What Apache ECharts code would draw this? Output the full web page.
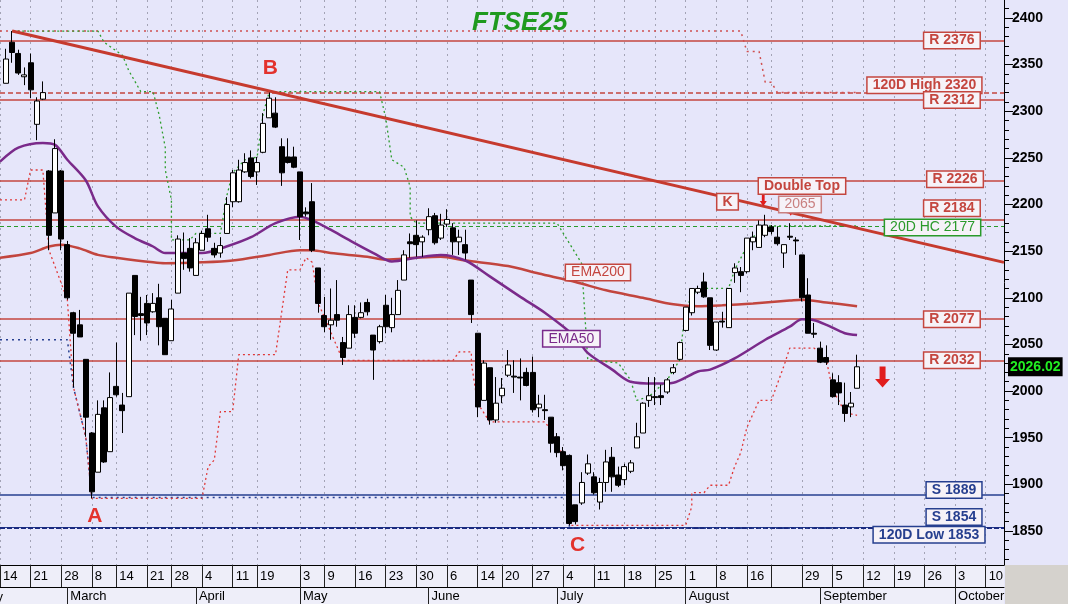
<!DOCTYPE html>
<html>
<head>
<meta charset="utf-8">
<script src="https://cdn.jsdelivr.net/npm/echarts@6.0.0/dist/echarts.min.js"></script>
<style>
html,body{margin:0;padding:0;background:#e6e6fa;}
#chart{width:1068px;height:604px;}
</style>
</head>
<body>
<div id="chart"></div>
<script>
// ---------- categories (trading days) ----------
const dates = ['02-14','02-15','02-16','02-17','02-18','02-21','02-22','02-23','02-24','02-25',
'02-28','03-01','03-02','03-03','03-04','03-08','03-09','03-10','03-11','03-14','03-15','03-16','03-17','03-18',
'03-21','03-22','03-23','03-24','03-28','03-29','03-30','03-31','04-01','04-04','04-05','04-06','04-07','04-08',
'04-11','04-12','04-13','04-14','04-19','04-20','04-21','04-26','04-27','04-28','04-29',
'05-03','05-04','05-05','05-06','05-09','05-10','05-11','05-12','05-13','05-16','05-17','05-18','05-19','05-20',
'05-23','05-24','05-25','05-26','05-27','05-30','05-31','06-01','06-02','06-03','06-06','06-07','06-08','06-09','06-10',
'06-14','06-15','06-16','06-17','06-20','06-21','06-22','06-23','06-24','06-27','06-28','06-29','06-30','07-01',
'07-04','07-05','07-06','07-07','07-08','07-11','07-12','07-13','07-14','07-15','07-18','07-19','07-20','07-21','07-22',
'07-25','07-26','07-27','07-28','07-29','08-01','08-02','08-03','08-04','08-05','08-08','08-09','08-10','08-11','08-12',
'08-16','08-17','08-18','08-19','08-22','08-23','08-24','08-25','08-26','08-29','08-30','08-31','09-01','09-02',
'09-05','09-06','09-07','09-08','09-09','09-12','09-13','09-14','09-15','09-16','09-19','09-20','09-21','09-22','09-23',
'09-26','09-27','09-28','09-29','09-30','10-03','10-04','10-05','10-06','10-07','10-10','10-11','10-12','10-13'];

// week tick indices (day-number row) and month starts
const dayTicks = [0,5,10,15,19,24,28,33,38,42,49,53,58,63,68,73,78,82,87,92,97,102,107,112,117,122,126,131,136,141,146,151,156,161];
const blankDayTicks = [126];
const monthStarts = [11,32,49,70,91,112,134,156];
const monthNames = ['March','April','May','June','July','August','September','October'];

// ---------- OHLC ----------
const opens = [null,2330,2374,2362,2337,2352,2286,2313,2236,2191,
2236,2157,2084,2071,2034,1955,1913,1982,1935,2005,
1985,1994,2124,2083,2094,2085,2100,2078,2054,2105,
2148,2153,2124,2151,2174,2153,2148,2169,2203,2203,
2235,2250,2235,2256,2293,2298,2262,2251,2251,2235,
2192,2203,2132,2081,2071,2082,2052,2046,2079,2079,
2095,2060,2053,2092,2068,2082,2119,2160,2167,2160,
2173,2188,2164,2179,2175,2160,2157,2119,2062,1990,
2025,1969,1995,2017,2016,2015,2020,2020,1982,1980,
1972,1951,1935,1931,1878,1880,1912,1908,1881,1902,
1929,1910,1905,1914,1939,1955,1990,1994,1995,1999,
2020,2034,2065,2084,2106,2117,2100,2044,2075,2068,
2127,2128,2128,2160,2154,2167,2176,2165,2148,2166,
2162,2146,2103,2062,2046,2036,2012,2009,1985,1983,
2003];
const highs = [null,2367,2386,2366,2347,2362,2315,2332,2237,2270,
2237,2161,2085,2087,2034,1956,1990,1990,2020,2052,
1998,2105,2124,2101,2103,2105,2115,2078,2098,2167,
2170,2164,2164,2172,2189,2159,2165,2208,2237,2248,
2255,2258,2251,2298,2321,2315,2271,2271,2262,2235,
2197,2223,2132,2101,2110,2119,2058,2092,2092,2095,
2099,2060,2071,2103,2100,2119,2151,2169,2183,2167,
2196,2191,2190,2195,2180,2173,2173,2119,2062,2033,
2025,2015,2014,2044,2033,2035,2025,2037,1996,1996,
1972,1955,1940,1932,1878,1913,1932,1913,1907,1937,
1940,1919,1922,1926,1966,1988,2015,2015,2007,2014,
2029,2053,2090,2110,2113,2127,2100,2074,2085,2110,
2137,2133,2164,2171,2183,2189,2178,2176,2157,2180,
2165,2146,2121,2073,2053,2049,2019,2017,2009,1999,
2039];
const lows = [null,2330,2352,2339,2328,2314,2269,2312,2151,2191,
2151,2098,2004,2058,1951,1885,1913,1923,1935,1994,
1955,1994,2060,2054,2060,2084,2049,2039,2054,2105,
2130,2128,2124,2151,2160,2143,2143,2169,2197,2202,
2234,2228,2221,2255,2293,2282,2220,2244,2239,2162,
2187,2149,2084,2063,2055,2069,2028,2046,2057,2078,
2081,2012,2051,2062,2063,2082,2119,2143,2144,2144,
2167,2157,2162,2176,2146,2146,2141,2073,1972,1990,
1964,1966,1987,2015,1998,1990,2005,1977,1972,1969,
1934,1929,1915,1856,1857,1878,1910,1889,1873,1892,
1892,1897,1899,1912,1939,1955,1983,1985,1985,1997,
2018,2033,2064,2081,2104,2100,2044,2043,2068,2068,
2116,2106,2126,2151,2154,2165,2168,2156,2132,2162,
2146,2096,2062,2057,2030,2028,1993,1985,1967,1972,
2003];
const closes = [null,2356,2363,2341,2339,2323,2311,2320,2167,2260,
2163,2100,2062,2058,1972,1892,1975,1924,1993,1996,
1979,2105,2080,2081,2073,2094,2069,2039,2088,2163,
2142,2132,2159,2169,2165,2146,2156,2200,2234,2237,
2245,2230,2245,2287,2314,2283,2234,2245,2240,2187,
2190,2151,2094,2069,2076,2076,2036,2082,2062,2084,
2085,2044,2069,2069,2082,2108,2146,2158,2157,2165,
2187,2159,2178,2184,2160,2165,2148,2082,1983,2030,
1969,1987,2003,2028,2015,2014,2006,1980,1986,1979,
1944,1934,1920,1858,1860,1902,1922,1891,1902,1924,
1908,1899,1919,1923,1951,1987,1995,1993,1993,2012,
2025,2052,2090,2110,2110,2101,2049,2074,2074,2110,
2132,2124,2164,2165,2178,2178,2171,2158,2157,2165,
2161,2100,2062,2061,2031,2031,1994,1998,1976,1987,
2026.02];

// ---------- indicator readings [dayIndex, value] ----------
const ema200 = [[0,2143],[5,2148],[8,2155],[10,2157],[13,2153],[16,2146],[19,2143],[25,2138],[27,2137],[33,2138],
[38,2140],[44,2146],[49,2151],[51,2151],[54,2148],[60,2144],[63,2141],[68,2143],[72,2144],[76,2140],[83,2134],
[88,2126],[94,2117],[99,2108],[105,2100],[110,2093],[114,2091],[118,2092],[123,2094],[129,2097],[131,2098],
[135,2095],[140,2091]];
const ema50 = [[0,2246],[3,2261],[7,2266],[9,2264],[11,2248],[14,2226],[16,2198],[19,2176],[22,2164],[25,2155],
[27,2148],[33,2148],[37,2155],[41,2165],[45,2180],[49,2187],[51,2183],[54,2173],[57,2162],[61,2148],[64,2139],
[68,2143],[72,2146],[76,2140],[80,2123],[85,2101],[89,2084],[94,2058],[96,2041],[100,2023],[103,2010],[107,2008],
[110,2009],[114,2021],[116,2023],[120,2035],[125,2055],[129,2069],[131,2077],[133,2076],[135,2071],[138,2062],[140,2060]];
const high20 = [[2,2386],[16,2386],[17,2374],[20,2360],[21,2344],[23,2321],[25,2321],[26,2296],[27,2261],[27,2237],
[28,2205],[28,2162],[31,2162],[32,2169],[36,2169],[37,2208],[38,2234],[40,2248],[42,2251],[43,2298],[44,2321],
[62,2321],[63,2293],[64,2248],[66,2240],[67,2219],[67,2187],[68,2180],[91,2180],[95,2137],[96,2034],[101,2030],
[103,2012],[104,1990],[106,1994],[109,2012],[111,2033],[112,2090],[114,2110],[119,2110],[120,2130],[122,2155],
[123,2165],[125,2177],[140,2177]];
const low20 = [[0,2205],[4,2205],[5,2237],[7,2237],[8,2151],[11,2098],[12,2004],[14,1951],[15,1885],[33,1885],
[34,1919],[35,1926],[36,1978],[38,1978],[39,2039],[45,2039],[46,2084],[47,2130],[49,2130],[50,2143],[51,2138],
[52,2094],[53,2079],[56,2033],[74,2033],[75,2042],[77,2042],[77,2030],[78,1987],[80,1967],[89,1967],[90,1958],
[92,1930],[93,1923],[93,1856],[112,1856],[113,1876],[113,1891],[115,1891],[116,1899],[119,1899],[120,1919],
[121,1934],[122,1961],[124,1990],[126,1990],[128,2026],[129,2046],[133,2046],[134,2041],[135,2033],[136,2001],
[137,1990],[138,1977],[140,1974]];
const low120 = [[0,2055],[11,2055],[12,2004],[14,1951],[15,1886],[93,1886],[93,1853],[140,1853]];
const high120 = [[0,2386],[121,2386],[122,2364],[124,2364],[125,2331],[126,2331],[127,2320],[140,2320]];
const trend = [[2,2386],[164,2138]];

// ---------- levels and tick labels ----------
const resistance = [2376,2312,2226,2184,2077,2032];
const support = [1889,1854];
const high120Level = 2320, low120Level = 1853, hc20Level = 2177, lastPrice = 2026.02;
const yLabels = [1850,1900,1950,2000,2050,2100,2150,2200,2250,2300,2350,2400];
const yMinor = []; for (let v = 1820; v <= 2410; v += 10) yMinor.push(v);

// ---------- styling ----------
const RED = '#c4463f', GREEN = '#2a9a2a', NAVY = '#263f8f', PURPLE = '#7a2a8a', FONT = 'Liberation Sans, Arial, sans-serif';
const dayTickSet = new Set(dayTicks), blankSet = new Set(blankDayTicks);
const monthMap = {}; monthStarts.forEach((m, k) => monthMap[m] = monthNames[k]);

function box(text, idx, val, color, dx, bold, size) {
  return {
    coord: [idx, val], symbol: 'rect', symbolSize: 1, itemStyle: {color: 'rgba(0,0,0,0)'},
    label: {show: true, position: 'inside', formatter: text, offset: [dx, 0], color: color,
      fontFamily: FONT, fontSize: size || 14, fontWeight: bold === false ? 'normal' : 'bold',
      backgroundColor: '#f6f2f8', borderColor: color, borderWidth: 1.5, padding: [1, 5, 0, 5], lineHeight: 14}
  };
}
function letter(text, idx, val, dx) {
  return {coord: [idx, val], symbol: 'rect', symbolSize: 1, itemStyle: {color: 'rgba(0,0,0,0)'},
    label: {show: true, position: 'inside', formatter: text, offset: [dx, 0], color: '#e3322d',
      fontFamily: FONT, fontSize: 21, fontWeight: 'bold'}};
}
const ARROW = 'path://M3,0L7,0L7,10L10,10L5,17L0,10L3,10Z';
function arrow(idx, val, dx, w, h) {
  return {coord: [idx, val], symbol: ARROW, symbolSize: [w, h], symbolOffset: [dx, 0],
    itemStyle: {color: '#e11d1d'}, label: {show: false}};
}

const annotations = [
  box('R 2376', 155, 2376, RED, 3), box('120D High 2320', 151, 2328, RED, 0), box('R 2312', 155, 2312, RED, 3),
  box('R 2226', 156, 2227, RED, 0), box('R 2184', 155, 2196, RED, 3), box('20D HC 2177', 152, 2175.5, GREEN, 2, false),
  box('R 2077', 155, 2077, RED, 3), box('R 2032', 155, 2033, RED, 3), box('S 1889', 156, 1894, NAVY, -1),
  box('S 1854', 156, 1865, NAVY, -1), box('120D Low 1853', 152, 1846, NAVY, -1.5),
  box('K', 119, 2203, RED, -1), box('Double Top', 131, 2220, RED, 0), box('2065', 131, 2200, '#c98080', -2, false),
  box('EMA200', 98, 2127, '#c4463f', -2, false), box('EMA50', 93, 2056, PURPLE, 2, false),
  letter('A', 15, 1866, 3), letter('B', 44, 2346, 1), letter('C', 94, 1835, 2),
  arrow(125, 2205, -2, 7, 13), arrow(129, 2195, 1, 7, 13), arrow(144, 2015, 1, 15, 21)
];

const levelLines = [];
resistance.forEach(v => levelLines.push({yAxis: v, lineStyle: {color: RED, width: 1.5, type: 'solid'}}));
levelLines.push({yAxis: high120Level, lineStyle: {color: RED, width: 1.5, type: [5, 3]}});
levelLines.push({yAxis: hc20Level, lineStyle: {color: GREEN, width: 1.2, type: [4, 3]}});
levelLines.push({yAxis: support[0], lineStyle: {color: NAVY, width: 1.5, type: 'solid'}});
levelLines.push({yAxis: support[1], lineStyle: {color: NAVY, width: 1, type: 'solid'}});
levelLines.push({yAxis: low120Level, lineStyle: {color: '#1a2a80', width: 2, type: [5, 2]}});

const candleData = opens.map((o, i) => o == null ? '-' : [o, closes[i], lows[i], highs[i]]);

function stepLine(name, data, color, width, type, z) {
  return {name, type: 'line', data, symbol: 'none', silent: true, z: z || 2,
    lineStyle: {color, width, type}, animation: false};
}

const option = {
  animation: false,
  backgroundColor: '#e6e6fa',
  textStyle: {fontFamily: FONT},
  title: {text: 'FTSE25', left: 467, top: 5,
    textStyle: {color: '#1f9a1f', fontSize: 26, fontWeight: 'bold', fontStyle: 'italic', fontFamily: FONT}},
  graphic: [
    {type: 'rect', z: -1, shape: {x: 0, y: 565, width: 1004, height: 39}, style: {fill: '#eeeef9'}},
    {type: 'rect', z: -1, shape: {x: 1005, y: 565, width: 63, height: 39}, style: {fill: '#d5d2cd'}},
    {type: 'text', z: 5, x: -49, y: 591, style: {text: 'February', fill: '#000', font: '13px ' + FONT}}
  ],
  grid: {left: 0, right: 64, top: 0, bottom: 39, show: true, backgroundColor: '#e6e6fa', borderWidth: 0},
  xAxis: [{
    type: 'category', data: dates, boundaryGap: false,
    axisLine: {lineStyle: {color: '#000', width: 1}},
    axisTick: {show: true, interval: i => dayTickSet.has(i), length: 22, lineStyle: {color: '#222'}},
    axisLabel: {interval: i => dayTickSet.has(i), formatter: (v, i) => blankSet.has(i) ? '' : String(parseInt(v.slice(3), 10)),
      align: 'left', padding: [0, 0, 0, 3], margin: 5, color: '#000', fontSize: 13, fontFamily: FONT},
    splitLine: {show: true, interval: i => dayTickSet.has(i), lineStyle: {color: '#a3a3b5', width: 1, type: [2, 4]}}
  }, {
    type: 'category', data: dates, boundaryGap: false, position: 'bottom', offset: 22,
    axisLine: {lineStyle: {color: '#000', width: 1}},
    axisTick: {show: true, interval: i => monthMap[i] !== undefined, length: 17, lineStyle: {color: '#222'}},
    axisLabel: {interval: i => monthMap[i] !== undefined, formatter: (v, i) => monthMap[i] || '',
      align: 'left', padding: [0, 0, 0, 3], margin: 3, color: '#000', fontSize: 13, fontFamily: FONT},
    splitLine: {show: false}
  }],
  yAxis: [{
    type: 'value', position: 'right', min: 1813.5, max: 2419.3,
    axisLine: {show: true, lineStyle: {color: '#000', width: 1}},
    axisTick: {show: true, customValues: yLabels, length: 9, lineStyle: {color: '#000'}},
    axisLabel: {customValues: yLabels, formatter: v => String(v), color: '#000', fontSize: 14, fontWeight: 'bold', margin: 8, fontFamily: FONT},
    splitLine: {show: false}
  }, {
    type: 'value', position: 'right', min: 1813.5, max: 2419.3,
    axisLine: {show: false},
    axisTick: {show: true, customValues: yMinor, length: 5, lineStyle: {color: '#000'}},
    axisLabel: {show: false}, splitLine: {show: false}
  }, {
    // last-price tag on the right axis
    type: 'value', position: 'right', min: 1813.5, max: 2419.3,
    axisLine: {show: false}, axisTick: {show: false}, splitLine: {show: false},
    axisLabel: {customValues: [lastPrice], formatter: v => v.toFixed(2), margin: 4, color: '#22ee22',
      backgroundColor: '#000000', padding: [3, 2, 2, 2], fontSize: 14, fontWeight: 'bold', fontFamily: FONT}
  }],
  series: [
    {name: 'levels', type: 'line', data: [[0, null]], symbol: 'none', silent: true,
      markLine: {silent: true, symbol: 'none', z: 1, label: {show: false}, data: levelLines, animation: false}},
    stepLine('120D high', high120, '#d05050', 1.5, [2, 4], 1),
    stepLine('120D low', low120, NAVY, 1.5, [2, 4], 1),
    stepLine('20D high', high20, '#2e9e2e', 1.3, [2, 3], 2),
    stepLine('20D low', low20, '#e03838', 1.3, [2, 3], 2),
    {name: 'EMA200', type: 'line', data: ema200, symbol: 'none', smooth: 0.3, silent: true, z: 3,
      lineStyle: {color: '#c2453e', width: 2.5}},
    {name: 'EMA50', type: 'line', data: ema50, symbol: 'none', smooth: 0.3, silent: true, z: 3,
      lineStyle: {color: PURPLE, width: 2.5}},
    {name: 'FTSE25', type: 'candlestick', data: candleData, barWidth: 5.5, z: 4,
      itemStyle: {color: '#ffffff', color0: '#000000', borderColor: '#000000', borderColor0: '#000000', borderWidth: 1}},
    {name: 'trend', type: 'line', data: trend, symbol: 'none', silent: true, z: 5,
      lineStyle: {color: '#c63a2e', width: 3}},
    {name: 'notes', type: 'line', data: [[0, null]], symbol: 'none', silent: true, z: 10,
      markPoint: {silent: true, z: 10, data: annotations, animation: false}}
  ]
};
const chart = echarts.init(document.getElementById('chart'));
chart.setOption(option);
</script>
</body>
</html>
